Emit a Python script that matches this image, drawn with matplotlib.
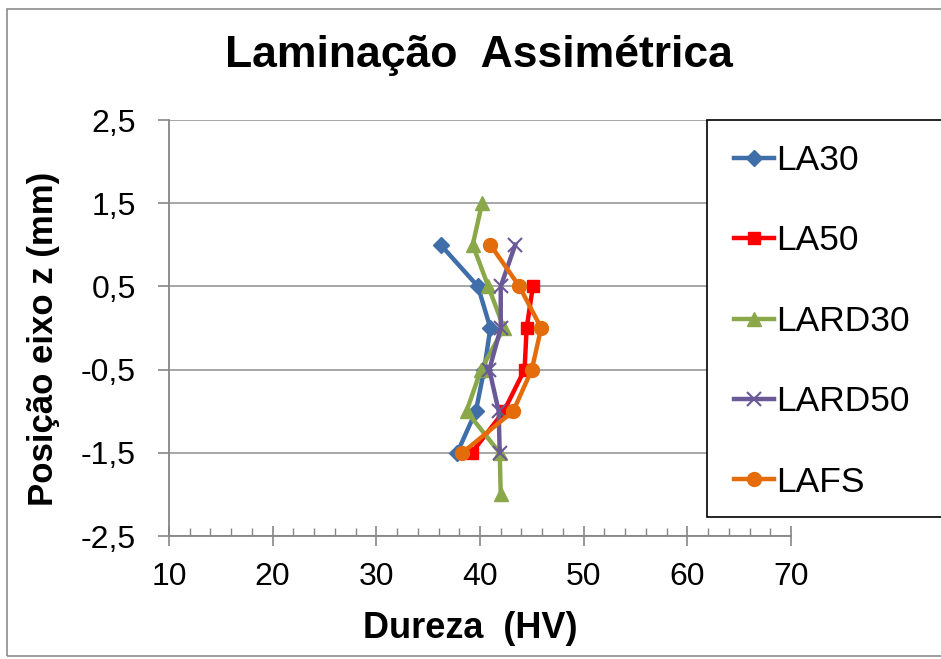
import matplotlib
matplotlib.use("Agg")
import matplotlib.pyplot as plt
from matplotlib.patches import Rectangle
from matplotlib.lines import Line2D
from matplotlib.ticker import MultipleLocator, FuncFormatter

plt.rcParams['font.family'] = ['Liberation Sans', 'DejaVu Sans']

# Hardness (HV) measured at each position along the z axis (mm)
z_la30 = [1.0, 0.5, 0.0, -0.5, -1.0, -1.5]
hv_la30 = [36.2, 39.8, 41.0, 40.4, 39.6, 37.8]

z_la50 = [0.5, 0.0, -0.5, -1.0, -1.5]
hv_la50 = [45.1, 44.5, 44.3, 42.3, 39.2]

z_lard30 = [1.5, 1.0, 0.5, 0.0, -0.5, -1.0, -1.5, -2.0]
hv_lard30 = [40.2, 39.3, 40.8, 42.3, 40.1, 38.7, 41.9, 42.0]

z_lard50 = [1.0, 0.5, 0.0, -0.5, -1.0, -1.5]
hv_lard50 = [43.4, 42.0, 42.0, 40.9, 41.8, 41.9]

z_lafs = [1.0, 0.5, 0.0, -0.5, -1.0, -1.5]
hv_lafs = [41.0, 43.8, 45.9, 45.0, 43.2, 38.3]

series = [
    ("LA30", hv_la30, z_la30, "#3F6EA8", "D", 8),
    ("LA50", hv_la50, z_la50, "#FF0000", "s", 9),
    ("LARD30", hv_lard30, z_lard30, "#8AA84A", "^", 10),
    ("LARD50", hv_lard50, z_lard50, "#6B5897", "x", 10),
    ("LAFS", hv_lafs, z_lafs, "#E46C0A", "o", 10),
]

W, H = 941, 659
fig = plt.figure(figsize=(W / 100, H / 100), dpi=100)
ax = fig.add_axes([169 / W, 1 - 536 / H, (791 - 169) / W, (536 - 120) / H])


def marker_style(color, mk):
    if mk == "x":
        return dict(markeredgewidth=1.5, markeredgecolor=color)
    return dict(markeredgecolor=color, markerfacecolor=color)


for name, hv, z, color, mk, ms in series:
    ax.plot(hv, z, color=color, lw=3.2, marker=mk, markersize=ms,
            label=name, solid_joinstyle='round', **marker_style(color, mk))

ax.set_xlim(10, 70)
ax.set_ylim(-2.5, 2.5)
ax.xaxis.set_major_locator(MultipleLocator(10))
ax.xaxis.set_minor_locator(MultipleLocator(2))
ax.set_yticks([2.5, 1.5, 0.5, -0.5, -1.5, -2.5])
ax.yaxis.set_major_formatter(FuncFormatter(lambda v, p: f"{v:.1f}".replace(".", ",")))
ax.xaxis.set_major_formatter(FuncFormatter(lambda v, p: f"{v:.0f}"))

ax.grid(axis='y', color='#A6A6A6', lw=1.4)
ax.set_axisbelow(True)
for s in ['top', 'right']:
    ax.spines[s].set_visible(False)
for s in ['left', 'bottom']:
    ax.spines[s].set_color('#868686')
    ax.spines[s].set_linewidth(1.3)

ax.tick_params(axis='x', which='major', direction='inout', length=14, width=1.2,
               color='#868686', labelsize=23, pad=12)
ax.tick_params(axis='x', which='minor', direction='in', length=6, width=1.0, color='#868686')
ax.tick_params(axis='y', which='major', direction='out', length=8, width=1.2,
               color='#868686', labelsize=23, pad=16)

ax.set_xlabel("Dureza  (HV)", fontsize=26, fontweight='bold')
ax.xaxis.set_label_coords((470 - 169) / (791 - 169), (536 - 628) / 416)
ax.xaxis.label.set_verticalalignment('center')
ax.set_ylabel("Posição eixo z (mm)", fontsize=25, fontweight='bold')
ax.yaxis.set_label_coords((43 - 169) / (791 - 169), (536 - 339) / 416)
ax.yaxis.label.set_verticalalignment('center')

fig.text(479 / W, 1 - 55 / H, "Laminação  Assimétrica", fontsize=32,
         fontweight='bold', ha='center', va='center')

# Outer chart frame
fig.patches.append(Rectangle((7 / W, 1 - 656 / H), 1.2, (656 - 9) / H,
                             transform=fig.transFigure, fill=False,
                             edgecolor='#8C8C8C', lw=1.2, clip_on=False))

# Legend box
fig.patches.append(Rectangle((707 / W, 1 - 517 / H), 0.5, (517 - 120) / H,
                             transform=fig.transFigure, facecolor='white',
                             edgecolor='black', lw=1.2, zorder=5))
proxies = [Line2D([], [], color=c, lw=3.2, marker=mk, markersize=ms,
                  **marker_style(c, mk)) for _, _, _, c, mk, ms in series]
leg = fig.legend(proxies, [s[0] for s in series], loc='upper left',
                 bbox_to_anchor=(734 / W, 1 - 144 / H), frameon=False,
                 fontsize=25.5, handlelength=1.13, handletextpad=0.06,
                 labelspacing=1.34, borderpad=0, borderaxespad=0)
leg.set_zorder(6)

fig.savefig("out.png", dpi=100)
